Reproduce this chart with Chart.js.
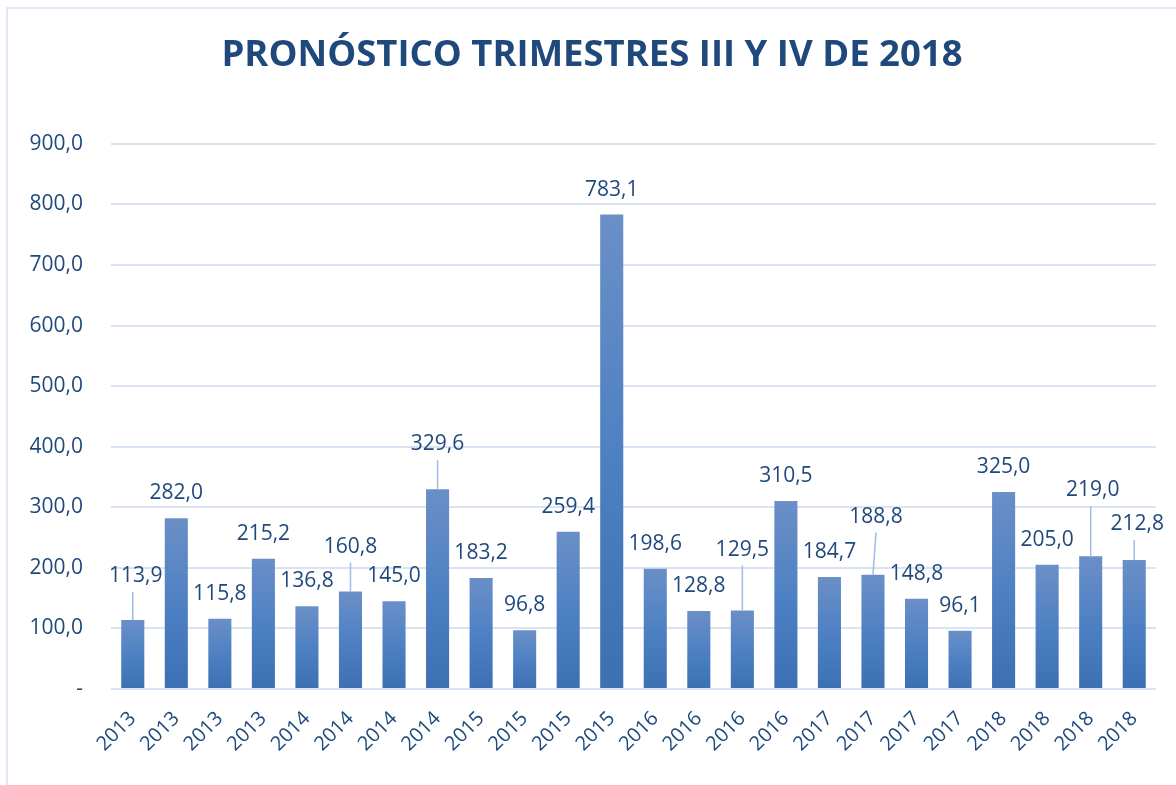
<!DOCTYPE html>
<html>
<head>
<meta charset="utf-8">
<script src="https://cdn.jsdelivr.net/npm/chart.js@4.4.1/dist/chart.umd.min.js"></script>
<style>
  html, body { margin: 0; padding: 0; background: #fff; }
  #wrap { position: relative; width: 1176px; height: 785px; }
</style>
</head>
<body>
<div id="wrap"><canvas id="chartForecast"></canvas></div>
<script>
// ── Pronóstico trimestral (barras) ──────────────────────────

const years = [
  "2013", "2013", "2013", "2013",
  "2014", "2014", "2014", "2014",
  "2015", "2015", "2015", "2015",
  "2016", "2016", "2016", "2016",
  "2017", "2017", "2017", "2017",
  "2018", "2018", "2018", "2018",
];
const values = [
  113.9, 282.0, 115.8, 215.2,
  136.8, 160.8, 145.0, 329.6,
  183.2, 96.8, 259.4, 783.1,
  198.6, 128.8, 129.5, 310.5,
  184.7, 188.8, 148.8, 96.1,
  325.0, 205.0, 219.0, 212.8,
];
const yTicks = [0, 100, 200, 300, 400, 500, 600, 700, 800, 900];

const ink = "#1f497d";
const gridColor = "#d9e3f1";
const fmt = (v) => v.toFixed(1).replace(".", ",");

// labels that Excel pushed up and tied back with a leader line
const leaders = {
  0: { dx: 3, dy: 19 },
  5: { dx: 0, dy: 20 },
  7: { dx: 0, dy: 20 },
  14: { dx: 0, dy: 36 },
  17: { dx: 3, dy: 33, tilt: true },
  22: { dx: 2, dy: 41 },
  23: { dx: 3, dy: 11 },
};

const frame = {
  id: "frame",
  beforeDraw(chart) {
    const { ctx, width, height } = chart;
    ctx.save();
    ctx.strokeStyle = "#d6e2f3";
    ctx.lineWidth = 1.5;
    ctx.beginPath();
    ctx.moveTo(7, height);
    ctx.lineTo(7, 8);
    ctx.lineTo(width, 8);
    ctx.stroke();
    ctx.restore();
  },
};

const valueLabels = {
  id: "valueLabels",
  afterDatasetsDraw(chart) {
    const { ctx } = chart;
    const meta = chart.getDatasetMeta(0);
    ctx.save();
    ctx.font = "21px 'Open Sans'";
    ctx.fillStyle = ink;
    ctx.textAlign = "center";
    ctx.textBaseline = "middle";
    meta.data.forEach((bar, i) => {
      const lead = leaders[i];
      const lx = bar.x + (lead ? lead.dx : 0);
      const ly = bar.y - 25 - (lead ? lead.dy : 0);
      if (lead) {
        ctx.strokeStyle = "#9dbde6";
        ctx.lineWidth = 1.5;
        ctx.beginPath();
        ctx.moveTo(lead.tilt ? lx : bar.x, ly + 16);
        ctx.lineTo(bar.x, bar.y);
        ctx.stroke();
      }
      ctx.fillText(fmt(values[i]), lx, ly);
    });
    ctx.restore();
  },
};

function barFill(context) {
  const chart = context.chart;
  const area = chart.chartArea;
  if (!area) return "#4f81c2";
  const y = chart.scales.y;
  const top = y.getPixelForValue(values[context.dataIndex]);
  const base = y.getPixelForValue(0);
  const g = chart.ctx.createLinearGradient(0, top, 0, base);
  g.addColorStop(0, "#6b8fc7");
  g.addColorStop(0.5, "#4e81c3");
  g.addColorStop(1, "#3d70b2");
  return g;
}

new Chart(document.getElementById("chartForecast"), {
  type: "bar",
  data: {
    labels: years,
    datasets: [
      {
        data: values,
        backgroundColor: barFill,
        borderWidth: 0,
        barPercentage: 0.53,
        categoryPercentage: 1,
      },
    ],
  },
  options: {
    responsive: true,
    maintainAspectRatio: false,
    animation: false,
    layout: { padding: { left: 28, right: 20, top: 0, bottom: 20 } },
    plugins: {
      legend: { display: false },
      tooltip: { enabled: false },
      title: {
        display: true,
        text: "PRONÓSTICO TRIMESTRES III Y IV DE 2018",
        color: ink,
        font: { family: "'Open Sans'", size: 36.5, weight: "bold" },
        padding: { top: 34, bottom: 66 },
      },
    },
    scales: {
      x: {
        grid: { display: false, drawTicks: false },
        border: { display: false },
        afterFit: (axis) => {
          axis.height = 76;
        },
        ticks: {
          color: ink,
          font: { family: "'Open Sans'", size: 20 },
          minRotation: 45,
          maxRotation: 45,
          padding: 18,
        },
      },
      y: {
        min: yTicks[0],
        max: yTicks[yTicks.length - 1],
        afterBuildTicks: (axis) => {
          axis.ticks = yTicks.map((v) => ({ value: v }));
        },
        afterFit: (axis) => {
          axis.width = 83;
        },
        grid: { color: gridColor, lineWidth: 2, drawTicks: false },
        border: { display: false },
        ticks: {
          color: ink,
          font: { family: "'Open Sans'", size: 21 },
          padding: 28,
          callback: (v) => (v === 0 ? "-" : fmt(v)),
        },
      },
    },
  },
  plugins: [frame, valueLabels],
});
</script>
</body>
</html>
